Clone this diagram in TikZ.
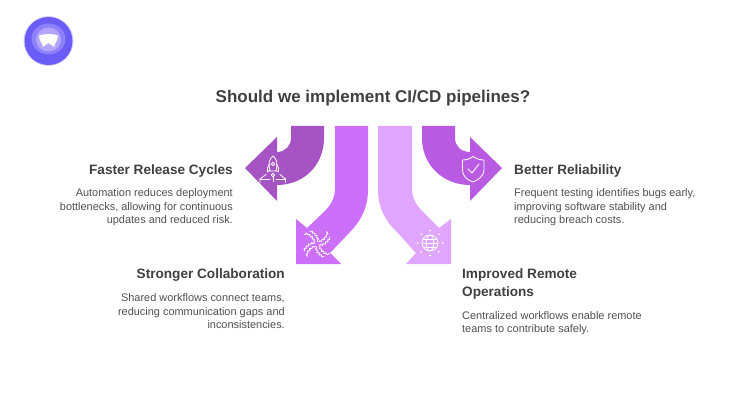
\documentclass[tikz,border=0pt]{standalone}
\usepackage{fontspec}
\setmainfont{Liberation Sans}
\usetikzlibrary{calc,decorations.pathmorphing}
\definecolor{arA}{HTML}{A653C4}
\definecolor{arB}{HTML}{CC6FFB}
\definecolor{arC}{HTML}{E0A5FF}
\definecolor{arD}{HTML}{B85AE2}
\definecolor{txt}{HTML}{404040}
\definecolor{bodytxt}{HTML}{505050}
\definecolor{logoA}{HTML}{6A5CF6}
\definecolor{logoB}{HTML}{8E80FA}
\definecolor{logoC}{HTML}{B4A5FC}
\definecolor{logoH}{HTML}{D8D4FD}
\tikzset{
 head/.style={text=txt,font=\fontsize{13.6}{18}\selectfont\bfseries,inner sep=0pt,align=left},
 para/.style={text=bodytxt,font=\fontsize{10.95}{13.5}\selectfont,inner sep=0pt},
 icon/.style={draw=white,line width=0.85pt,line cap=round,line join=round,fill=none},
 wavy/.style={icon,decorate,decoration={snake,amplitude=0.8pt,segment length=3.2pt}},
}
\begin{document}
\begin{tikzpicture}[x=1pt,y=-1pt]
\useasboundingbox (0,0) rectangle (740,420);
\fill[white] (0,0) rectangle (740,420);
% logo
\fill[logoH] (48.5,41) circle (25);
\fill[logoA] (48.5,41) circle (24);
\fill[logoB] (48.5,39) ellipse (17 and 15.5);
\fill[logoC] (48.5,39.5) ellipse (12.5 and 12);
\fill[white] (39,35.5) .. controls (44,33.5) and (53,33.5) .. (58,35.5) .. controls (58,40) and (55,43) .. (54,47) -- (48.5,43) -- (43,47) .. controls (42,43) and (39,40) .. (39,35.5) -- cycle;
% title
\node[text=txt,font=\fontsize{17}{22}\selectfont\bfseries,inner sep=0pt] (title) at (373,98) {Should we implement CI/CD pipelines?};
% arrows
\fill[arA] (291,126) -- (324,126) -- (324,138) .. controls (324,165) and (304,185) .. (277,185) -- (277,201) -- (245,168) -- (277,137) -- (277,152) .. controls (285,152) and (291,146) .. (291,138) -- cycle;
\fill[arB] (335,126) -- (368,126) -- (368,190) .. controls (368,208) and (360,222) .. (350,232) -- (330,253) -- (341,264) -- (296,264) -- (296,219) -- (307,228) -- (324,212) .. controls (331,205) and (335,198) .. (335,188) -- cycle;
\fill[arC] (378,126) -- (412,126) -- (412,188) .. controls (412,198) and (416,205) .. (423,212) -- (439,228) -- (451,219) -- (451,264) -- (406,264) -- (416,253) -- (397,232) .. controls (386,222) and (378,208) .. (378,190) -- cycle;
\fill[arD] (422,126) -- (455,126) -- (455,138) .. controls (455,146) and (461,152) .. (470,152) -- (470,137) -- (502,168) -- (470,201) -- (470,185) .. controls (443,185) and (422,165) .. (422,138) -- cycle;
% rocket icon
\draw[icon] (273,156) .. controls (269,159) and (268,164) .. (270,171) -- (276,171) .. controls (278,164) and (277,159) .. (273,156) -- cycle;
\draw[icon] (273,164) circle (1.8);
\draw[icon] (269.5,164) -- (267.5,168) -- (267.5,172) -- (270,170.5) (276.5,164) -- (278.5,168) -- (278.5,172) -- (276,170.5);
\draw[icon] (273,175) circle (1.8);
\draw[icon] (266,174.5) -- (260,179) -- (260,182.5) (280,174.5) -- (285.5,179) -- (285.5,182.5);
\draw[icon] (260,179) -- (270,179) (276,179) -- (285.5,179) (273,177) -- (273,181.5);
% shuriken icon
\foreach \r in {0,90,180,270}{
 \begin{scope}[shift={(317,244)},rotate=\r]
  \draw[wavy] (-2,-2) .. controls (-5,-8) and (-9,-10) .. (-12.5,-9.5);
  \draw[wavy] (1,-2.5) .. controls (1,-7) and (-3,-10.5) .. (-7,-12.5);
 \end{scope}
}
% globe icon
\draw[icon] (430,243) circle (8);
\draw[icon] (430,243) ellipse (3.7 and 8);
\draw[icon] (422,243) -- (438,243) (423.5,239) -- (436.5,239) (423.5,247) -- (436.5,247);
\foreach \a in {0,45,...,315}{\fill[white] ($(430,243)+(\a:12.5)$) circle (1);}
% shield icon
\draw[icon] (473,156.5) .. controls (477,159) and (480,160) .. (484,160) -- (484,170) .. controls (484,176) and (478,180) .. (473,182) .. controls (467,180) and (462.5,176) .. (462.5,170) -- (462.5,160) .. controls (466,160) and (470,159) .. (473,156.5) -- cycle;
\draw[icon] (468,169) -- (472,173) -- (479,164);
% labels
\node[head,anchor=east] (h1) at (233,171) {Faster Release Cycles};
\node[para,anchor=north east,align=right] (p1) at (233,188.5) {Automation reduces deployment\\bottlenecks, allowing for continuous\\updates and reduced risk.};
\node[head,anchor=west] (h2) at (514,171) {Better Reliability};
\node[para,anchor=north west,align=left] (p2) at (514,188.5) {Frequent testing identifies bugs early,\\improving software stability and\\reducing breach costs.};
\node[head,anchor=east] (h3) at (285,275) {Stronger Collaboration};
\node[para,anchor=north east,align=right] (p3) at (285,293.5) {Shared workflows connect teams,\\reducing communication gaps and\\inconsistencies.};
\node[head,anchor=north west] (h4) at (462,268) {Improved Remote\\Operations};
\node[para,anchor=north west,align=left] (p4) at (462,311) {Centralized workflows enable remote\\teams to contribute safely.};
\end{tikzpicture}
\end{document}
